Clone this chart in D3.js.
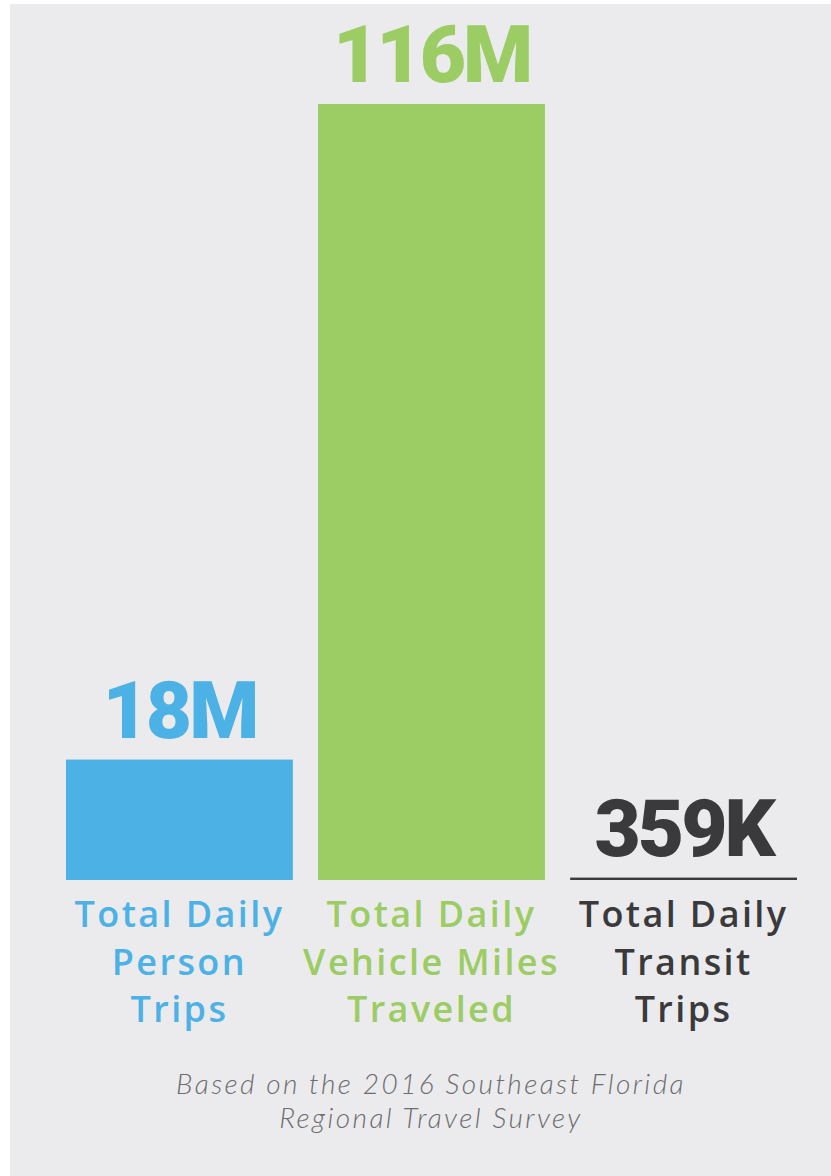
<!DOCTYPE html>
<html>
<head>
<meta charset="utf-8">
<script src="https://cdn.jsdelivr.net/npm/d3@7"></script>
<style>
  body { margin: 0; background: #fff; }
  svg { display: block; }
</style>
</head>
<body>
<div id="chart"></div>
<script>
// data
const categories = ['person', 'vmt', 'transit'];
const values = [18, 116, 0.359]; // millions
const valueLabels = ['18M', '116M', '359K'];
const categoryLines = [
    ['Total Daily', 'Person', 'Trips'],
    ['Total Daily', 'Vehicle Miles', 'Traveled'],
    ['Total Daily', 'Transit', 'Trips']
];
const colors = ['#4cb1e4', '#9ccc64', '#3a3a3c'];
const note = ['Based on the 2016 Southeast Florida', 'Regional Travel Survey'];

const width = 831;
const height = 1176;

const svg = d3.select('#chart')
    .append('svg')
        .attr('width', width)
        .attr('height', height);

// grey panel
svg.append('rect')
    .attr('x', 10)
    .attr('y', 4)
    .attr('width', width - 10)
    .attr('height', height - 4)
    .attr('fill', '#ebebed');

const x = d3.scaleBand()
    .domain(categories)
    .range([66, 797])
    .paddingInner(0.1)
    .paddingOuter(0);

const y = d3.scaleLinear()
    .domain([0, 116])
    .range([880, 104]);

const rows = categories.map((c, i) => ({
    key: c, value: values[i], label: valueLabels[i], lines: categoryLines[i], color: colors[i]
}));

// bars
svg.append('g')
    .selectAll('rect')
    .data(rows)
    .join('rect')
        .attr('x', d => x(d.key))
        .attr('y', d => y(d.value))
        .attr('width', x.bandwidth())
        .attr('height', d => Math.max(2.4, y(0) - y(d.value)))
        .attr('fill', d => d.color);

// big value labels
svg.append('g')
    .selectAll('text')
    .data(rows)
    .join('text')
        .attr('x', d => x(d.key) + x.bandwidth() / 2)
        .attr('y', d => y(d.value) - 22)
        .attr('text-anchor', 'middle')
        .attr('fill', d => d.color)
        .style('font-family', 'Roboto, Lato, sans-serif')
        .style('font-weight', 900)
        .style('font-size', '80px')
        .style('letter-spacing', '-3px')
        .text(d => d.label);

// category labels
const cat = svg.append('g')
    .selectAll('text')
    .data(rows)
    .join('text')
        .attr('text-anchor', 'middle')
        .attr('fill', d => d.color)
        .style('font-family', '"Open Sans", sans-serif')
        .style('font-weight', 600)
        .style('font-size', '36px')
        .style('letter-spacing', '2.4px');
cat.selectAll('tspan')
    .data(d => d.lines.map(l => ({ l, d })))
    .join('tspan')
        .attr('x', t => x(t.d.key) + x.bandwidth() / 2)
        .attr('y', (t, i) => 927 + i * 47.5)
        .text(t => t.l);

// footnote
svg.append('g')
    .selectAll('text')
    .data(note)
    .join('text')
        .attr('x', 431)
        .attr('y', (d, i) => 1094 + i * 34)
        .attr('text-anchor', 'middle')
        .attr('fill', '#6d6d70')
        .style('font-family', 'Lato, sans-serif')
        .style('font-style', 'italic')
        .style('font-weight', 300)
        .style('font-size', '28px')
        .style('letter-spacing', '2.4px')
        .text(d => d);
</script>
</body>
</html>
